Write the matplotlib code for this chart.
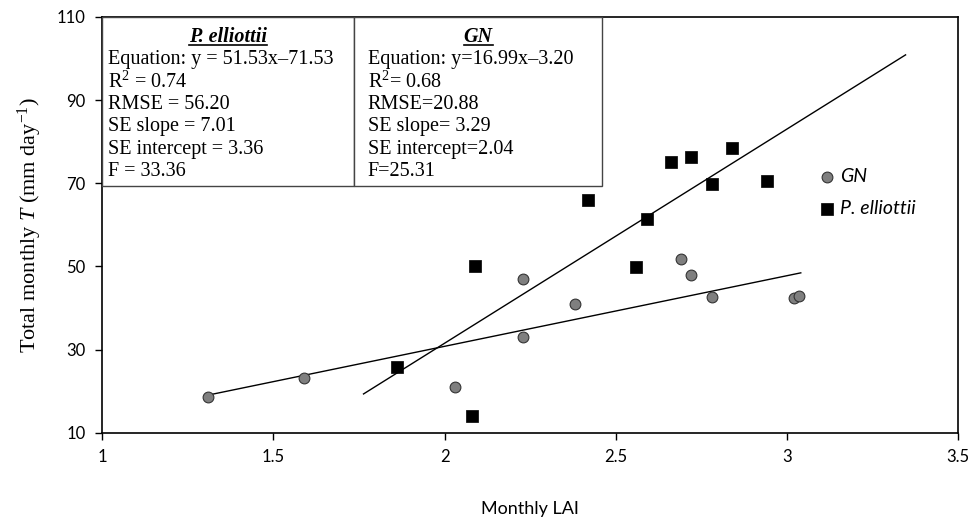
import matplotlib
matplotlib.use('Agg')
import matplotlib.pyplot as plt
from matplotlib.patches import Rectangle
from matplotlib.lines import Line2D

# data
gn_lai = [1.31, 1.59, 2.03, 2.23, 2.23, 2.38, 2.69, 2.72, 2.78, 3.02, 3.035]
gn_t = [18.7, 23.2, 21.0, 46.9, 33.1, 41.0, 51.7, 47.9, 42.7, 42.5, 43.0]
pe_lai = [1.86, 2.08, 2.09, 2.42, 2.56, 2.59, 2.66, 2.72, 2.78, 2.84, 2.94]
pe_t = [25.9, 14.1, 50.2, 66.0, 49.9, 61.4, 75.2, 76.4, 69.8, 78.6, 70.6]

# fitted lines (slope, intercept, x range)
gn_fit = (16.99, -3.20, [1.31, 3.04])
pe_fit = (51.53, -71.53, [1.763, 3.346])

pe_stats = ["Equation: y = 51.53x\u201371.53", "R$^2$ = 0.74", "RMSE = 56.20",
            "SE slope = 7.01", "SE intercept = 3.36", "F = 33.36"]
gn_stats = ["Equation: y=16.99x\u20133.20", "R$^2$= 0.68", "RMSE=20.88",
            "SE slope= 3.29", "SE intercept=2.04", "F=25.31"]

xticks = [1, 1.5, 2, 2.5, 3, 3.5]
yticks = [10, 30, 50, 70, 90, 110]

plt.rcParams['mathtext.fontset'] = 'custom'
plt.rcParams['mathtext.rm'] = 'Liberation Serif'
plt.rcParams['mathtext.it'] = 'Liberation Serif:italic'
sans = ['Lato', 'DejaVu Sans']
serif = ['Liberation Serif', 'DejaVu Serif']

fig = plt.figure(figsize=(9.72, 5.23), dpi=100)
ax = fig.add_axes([0.1052, 0.1727, 0.8807, 0.7948])

for slope, icpt, xr in [gn_fit, pe_fit]:
    ax.plot(xr, [slope * v + icpt for v in xr], color='black', lw=1, zorder=2)

ax.scatter(gn_lai, gn_t, s=60, marker='o', color='#7f7f7f', edgecolor='#333333',
           linewidth=0.8, label='GN', zorder=3)
ax.scatter(pe_lai, pe_t, s=80, marker='s', color='black', edgecolor='black',
           linewidth=0.5, label='P. elliottii', zorder=3)

ax.set_xlim(1, 3.5)
ax.set_ylim(10, 110)
ax.set_xticks(xticks)
ax.set_xticklabels([str(v) for v in xticks], family=sans, fontsize=12)
ax.set_yticks(yticks)
ax.set_yticklabels([str(v) for v in yticks], family=sans, fontsize=12)
ax.tick_params(direction='out', length=5, width=1, pad=7)
for sp in ax.spines.values():
    sp.set_linewidth(1.2)

ax.set_xlabel('Monthly LAI', family=sans, fontsize=13, labelpad=26)
ax.set_ylabel('Total monthly $T$ (mm day$^{-1}$)', family=serif, fontsize=16, labelpad=9)

leg = ax.legend(loc='upper left', bbox_to_anchor=(0.826, 0.655), frameon=False,
                prop={'family': sans, 'style': 'italic', 'size': 14},
                handletextpad=0.2, labelspacing=0.75, handlelength=1.0, borderaxespad=0)

# statistics boxes
boxes = [(0.0, 0.294, 0.007, 'P. elliottii', pe_stats), (0.294, 0.584, 0.310, 'GN', gn_stats)]
titles = []
for x0, x1, xt, name, lines in boxes:
    ax.add_patch(Rectangle((x0, 0.593), x1 - x0, 0.407, transform=ax.transAxes,
                           facecolor='white', edgecolor='#444444', lw=1, zorder=4))
    t = ax.text((x0 + x1) / 2, 0.952, name, transform=ax.transAxes, ha='center', va='center',
                family=serif, fontsize=14.5, fontweight='bold', style='italic', zorder=5)
    titles.append(t)
    for i, line in enumerate(lines):
        ax.text(xt, 0.898 - i * 0.054, line, transform=ax.transAxes, ha='left',
                va='center', family=serif, fontsize=14.5, zorder=5)

# underline the box titles
fig.canvas.draw()
r = fig.canvas.get_renderer()
for t in titles:
    bb = t.get_window_extent(r).transformed(fig.transFigure.inverted())
    fig.add_artist(Line2D([bb.x0, bb.x1], [bb.y0 + 0.004, bb.y0 + 0.004], color='black', lw=1.2,
                          zorder=6))

plt.savefig('out.png', dpi=100)
